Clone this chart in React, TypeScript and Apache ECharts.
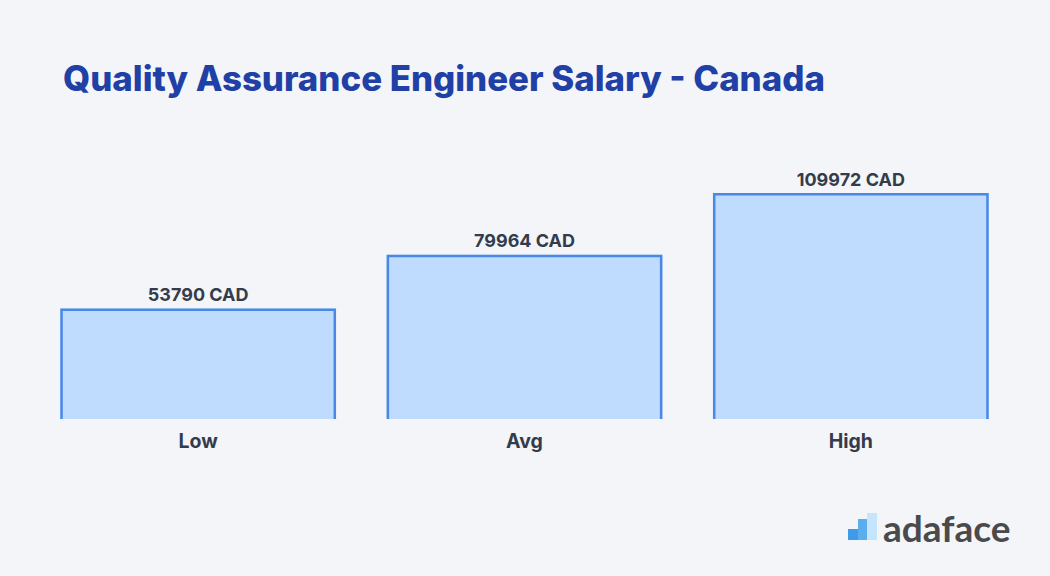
import React, { useEffect, useRef } from "react";
import * as echarts from "echarts";

const categories = ["Low", "Avg", "High"];
const salaries = [53790, 79964, 109972];
const currency = "CAD";
const titleText = "Quality Assurance Engineer Salary - Canada";

export default function App() {
  const ref = useRef<HTMLDivElement>(null);
  useEffect(() => {
    document.body.style.margin = "0";
    const chart = echarts.init(ref.current!, null, { renderer: "svg" });
    chart.setOption({
      animation: false,
      backgroundColor: "#f3f5f8",
      title: {
        text: titleText,
        left: 58,
        top: 55,
        textStyle: {
          fontFamily: "Inter",
          fontWeight: 800,
          fontSize: 34.8,
          color: "#2140a6",
        },
      },
      grid: { left: 35, right: 36, top: 193, bottom: 157 },
      xAxis: {
        type: "category",
        data: categories,
        axisLine: { show: false },
        axisTick: { show: false },
        axisLabel: {
          margin: 12,
          fontFamily: "Inter",
          fontWeight: 700,
          fontSize: 19.5,
          color: "#343c4c",
        },
      },
      yAxis: { type: "value", min: 0, max: 109972, show: false, splitLine: { show: false } },
      series: [
        {
          type: "bar",
          data: salaries,
          barCategoryGap: "15.5%",
          itemStyle: { color: "#bfdbfe" },
          label: {
            show: true,
            position: "top",
            distance: 5,
            formatter: (p: any) => `${p.value} ${currency}`,
            fontFamily: "Inter",
            fontWeight: 700,
            fontSize: 18,
            color: "#343c4c",
          },
        },
        {
          type: "custom",
          data: salaries.map((v, i) => [i, v]),
          silent: true,
          z: 3,
          renderItem: (params: any, api: any) => {
            const top = api.coord([api.value(0), api.value(1)]);
            const base = api.coord([api.value(0), 0]);
            const w = api.size([1, 0])[0] * (1 - 0.155);
            const x0 = top[0] - w / 2 + 1.25;
            const x1 = top[0] + w / 2 - 1.25;
            const y0 = top[1] + 1.25;
            return {
              type: "polyline",
              shape: { points: [[x0, base[1]], [x0, y0], [x1, y0], [x1, base[1]]] },
              style: { stroke: "#4a88e8", lineWidth: 2.5, fill: null },
            };
          },
        },
      ],
      graphic: [
        { type: "rect", shape: { x: 848, y: 529, width: 10, height: 11 }, style: { fill: "#3d9be9" } },
        { type: "rect", shape: { x: 858, y: 519, width: 9, height: 21 }, style: { fill: "#5aaef0" } },
        { type: "rect", shape: { x: 867, y: 513, width: 10, height: 27 }, style: { fill: "#c4e5fb" } },
        {
          type: "text",
          x: 883,
          y: 527,
          style: {
            text: "adaface",
            fontFamily: "Lato",
            fontWeight: 700,
            fontSize: 37,
            fill: "#4a4a4c",
            verticalAlign: "middle",
          },
        },
      ],
    });
    return () => chart.dispose();
  }, []);
  return <div ref={ref} style={{ width: 1050, height: 576 }} />;
}
